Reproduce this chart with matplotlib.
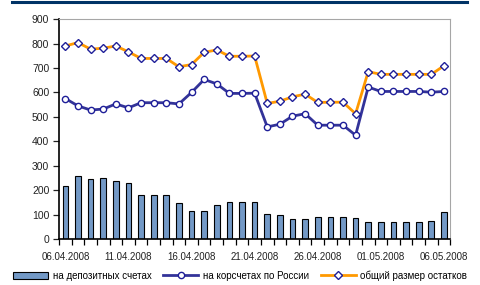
import matplotlib.pyplot as plt
import numpy as np

plt.rcParams['font.family'] = ['Liberation Sans', 'DejaVu Sans']

# даты 06.04.2008 - 06.05.2008
dates = ['%02d.04.2008' % d for d in range(6, 31)] + ['%02d.05.2008' % d for d in range(1, 7)]
deposit = [217, 259, 245, 249, 237, 229, 182, 182, 182, 147, 113, 117, 139, 151, 151, 151,
           101, 97, 83, 83, 91, 91, 91, 88, 68, 68, 68, 68, 68, 75, 109]
korr = [575, 545, 528, 532, 553, 537, 558, 558, 558, 553, 600, 653, 635, 596, 596, 597,
        459, 470, 503, 513, 466, 466, 466, 425, 622, 604, 604, 604, 604, 601, 604]
total = [790, 804, 777, 781, 790, 766, 739, 739, 739, 705, 714, 764, 774, 748, 748, 749,
         555, 564, 582, 593, 559, 560, 560, 513, 685, 674, 674, 674, 674, 674, 709]
labels = ['на депозитных счетах', 'на корсчетах по России', 'общий размер остатков']

x = np.arange(len(dates))

fig = plt.figure(figsize=(4.8, 2.85), dpi=100)
ax = fig.add_axes([0.123, 0.161, 0.815, 0.772])

# линия шапки сверху
fig.add_artist(plt.Line2D([0.025, 0.973], [0.993, 0.993], color='#003366', lw=2.2,
                          transform=fig.transFigure))

b = ax.bar(x, deposit, width=0.45, color='#7399c6', edgecolor='black', linewidth=0.8, zorder=2)
l1, = ax.plot(x, korr, color='#333399', lw=2, marker='o', ms=4.5, mfc='white',
              mec='#1f1f99', mew=1, zorder=3)
l2, = ax.plot(x, total, color='#ff9900', lw=2, marker='D', ms=4, mfc='white',
              mec='#1f1f99', mew=1, zorder=3)

ax.set_xlim(-0.5, len(dates) - 0.5)
ax.set_ylim(0, 900)
ax.set_yticks(range(0, 901, 100))
ax.set_xticks(x[::5])
ax.set_xticklabels(dates[::5])
ax.set_xticks(np.arange(-0.5, len(dates), 1), minor=True)
ax.tick_params(axis='x', which='major', length=0, pad=9, labelsize=7, colors='#222222')
ax.tick_params(axis='x', which='minor', length=4, width=0.9, direction='out')
ax.tick_params(axis='y', length=4, width=0.9, labelsize=7.5, colors='#222222', pad=3)
for lab in ax.get_xticklabels() + ax.get_yticklabels():
    lab.set_color('#222222')

ax.spines['top'].set_color('#a6a6a6')
ax.spines['right'].set_color('#a6a6a6')
ax.spines['left'].set_linewidth(1.2)
ax.spines['bottom'].set_linewidth(1.2)

fig.legend([b, l1, l2], labels, loc='lower center', bbox_to_anchor=(0.5, -0.015), ncol=3,
           frameon=False, fontsize=7, handlelength=3.6, columnspacing=1.2, handletextpad=0.5)

fig.savefig('out.png', dpi=100)
